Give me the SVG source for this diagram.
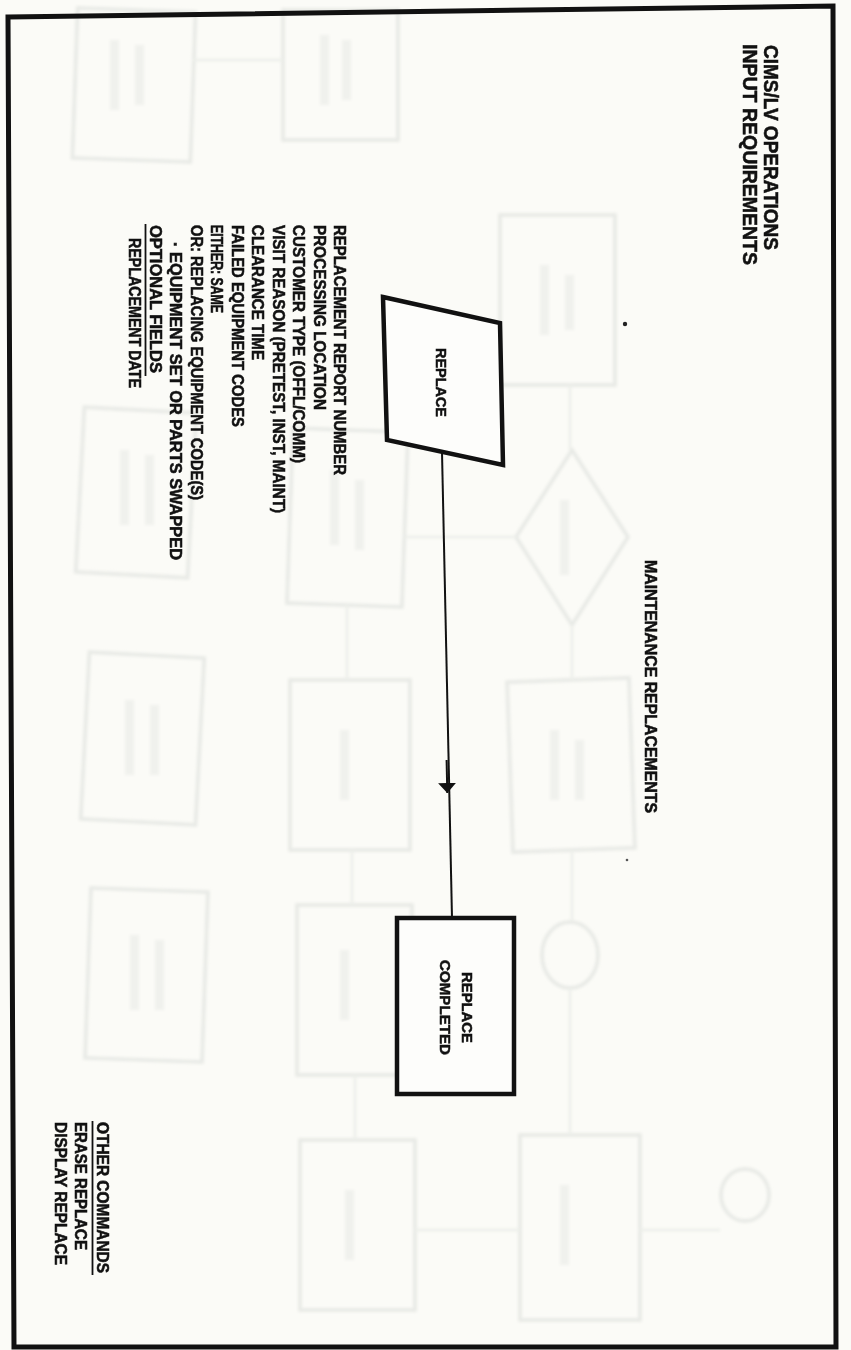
<svg xmlns="http://www.w3.org/2000/svg" width="851" height="1350" viewBox="0 0 851 1350">
  <defs>
    <marker id="arrowhead" viewBox="0 0 10 10" refX="10" refY="5" markerWidth="10" markerHeight="18" markerUnits="userSpaceOnUse" orient="auto" preserveAspectRatio="none">
      <path d="M0,0 L10,5 L0,10 Z" fill="#111"/>
    </marker>
    <filter id="soft" x="-5%" y="-5%" width="110%" height="110%">
      <feGaussianBlur stdDeviation="1.6"/>
    </filter>
    <style>
      .bg { fill: #fbfbf7; }
      .frame { fill: none; stroke: #111; stroke-width: 5; stroke-linejoin: miter; }
      .shape { fill: #fdfdfb; stroke: #111; stroke-width: 4.5; stroke-linejoin: miter; }
      .wire { fill: none; stroke: #111; stroke-width: 2; }
      .ghost { fill: none; stroke: #e7e9e5; stroke-width: 3.5; }
      .ghost-thin { fill: none; stroke: #eceee9; stroke-width: 2.5; }
      .ghost-ink { fill: #f0f1ed; }
      .t { font-family: "Liberation Sans", Arial, sans-serif; font-weight: bold; fill: #111; stroke: #111; stroke-width: 0.55; }
      .title { font-size: 20px; }
      .head { font-size: 16.5px; }
      .body { font-size: 16px; }
      .label { font-size: 15.5px; }
      .rule { stroke: #111; stroke-width: 1.8; }
    </style>
  </defs>

  <!-- page -->
  <rect class="bg" x="0" y="0" width="851" height="1350"/>

  <!-- faint show-through from the reverse side of the sheet -->
  <g id="show-through" filter="url(#soft)">
    <rect class="ghost" x="75" y="10" width="118" height="150" transform="rotate(2 134 85)"/>
    <rect class="ghost" x="283" y="10" width="115" height="130"/>
    <rect class="ghost" x="500" y="215" width="115" height="170"/>
    <polygon class="ghost" points="572,450 628,537 572,625 516,537"/>
    <rect class="ghost" x="510" y="680" width="122" height="170" transform="rotate(-2 571 765)"/>
    <ellipse class="ghost" cx="570" cy="955" rx="28" ry="33"/>
    <rect class="ghost" x="520" y="1135" width="120" height="185"/>
    <ellipse class="ghost" cx="745" cy="1195" rx="24" ry="26"/>
    <rect class="ghost" x="290" y="430" width="115" height="175" transform="rotate(2 347 517)"/>
    <rect class="ghost" x="290" y="680" width="120" height="170"/>
    <rect class="ghost" x="297" y="905" width="115" height="170"/>
    <rect class="ghost" x="300" y="1140" width="115" height="170"/>
    <rect class="ghost" x="80" y="410" width="112" height="165" transform="rotate(3 136 492)"/>
    <rect class="ghost" x="85" y="655" width="115" height="167" transform="rotate(3 142 738)"/>
    <rect class="ghost" x="88" y="890" width="117" height="170" transform="rotate(2 146 975)"/>
    <path class="ghost-thin" d="M570,385 V450 M572,625 V680 M572,850 V922 M570,988 V1135 M405,537 H516 M347,605 V680 M352,850 V905 M355,1075 V1140 M192,60 H283 M415,1230 H520 M640,1230 H720"/>
    <!-- blurred lettering seen through the paper -->
    <rect class="ghost-ink" x="110" y="40" width="9" height="70"/>
    <rect class="ghost-ink" x="135" y="45" width="9" height="60"/>
    <rect class="ghost-ink" x="320" y="35" width="9" height="70"/>
    <rect class="ghost-ink" x="342" y="40" width="9" height="60"/>
    <rect class="ghost-ink" x="540" y="265" width="9" height="70"/>
    <rect class="ghost-ink" x="565" y="275" width="9" height="55"/>
    <rect class="ghost-ink" x="560" y="500" width="9" height="75"/>
    <rect class="ghost-ink" x="550" y="730" width="9" height="70"/>
    <rect class="ghost-ink" x="575" y="740" width="9" height="60"/>
    <rect class="ghost-ink" x="330" y="470" width="9" height="75"/>
    <rect class="ghost-ink" x="355" y="480" width="9" height="70"/>
    <rect class="ghost-ink" x="340" y="730" width="9" height="70"/>
    <rect class="ghost-ink" x="340" y="950" width="9" height="70"/>
    <rect class="ghost-ink" x="345" y="1190" width="9" height="70"/>
    <rect class="ghost-ink" x="560" y="1185" width="9" height="80"/>
    <rect class="ghost-ink" x="120" y="450" width="9" height="75"/>
    <rect class="ghost-ink" x="145" y="455" width="9" height="70"/>
    <rect class="ghost-ink" x="125" y="700" width="9" height="75"/>
    <rect class="ghost-ink" x="150" y="705" width="9" height="70"/>
    <rect class="ghost-ink" x="130" y="935" width="9" height="75"/>
    <rect class="ghost-ink" x="155" y="940" width="9" height="70"/>
  </g>

  <!-- specks on the sheet -->
  <circle cx="625" cy="324" r="2.2" fill="#222"/>
  <circle cx="627" cy="860" r="1.3" fill="#555"/>

  <!-- sheet border -->
  <polygon class="frame" points="8,17 833,6 836,1347 14,1347"/>

  <!-- connectors -->
  <g id="connectors">
    <line class="wire" x1="442" y1="452" x2="452" y2="918"/>
    <line class="wire" x1="446.6" y1="760" x2="447.3" y2="793" marker-end="url(#arrowhead)"/>
  </g>

  <!-- nodes -->
  <g id="node-replace">
    <polygon class="shape" points="383,297 500,323 503,465 387,440"/>
  </g>
  <g id="node-replace-completed">
    <rect class="shape" x="397" y="918" width="117" height="176"/>
  </g>

  <!-- all lettering runs top-to-bottom (page set landscape) -->
  <g id="labels" transform="rotate(90)">
    <!-- title -->
    <text class="t title" x="45" y="-764" textLength="205" lengthAdjust="spacingAndGlyphs">CIMS/LV OPERATIONS</text>
    <text class="t title" x="44" y="-743" textLength="221" lengthAdjust="spacingAndGlyphs">INPUT REQUIREMENTS</text>

    <!-- heading -->
    <text class="t head" x="560" y="-645" textLength="253" lengthAdjust="spacingAndGlyphs">MAINTENANCE REPLACEMENTS</text>

    <!-- node labels -->
    <text class="t label" x="348" y="-436" textLength="69" lengthAdjust="spacingAndGlyphs">REPLACE</text>
    <text class="t label" x="972" y="-462" textLength="71" lengthAdjust="spacingAndGlyphs">REPLACE</text>
    <text class="t label" x="960" y="-440" textLength="95" lengthAdjust="spacingAndGlyphs">COMPLETED</text>

    <!-- required fields -->
    <g id="fields">
      <text class="t body" x="225" y="-334" textLength="250" lengthAdjust="spacingAndGlyphs">REPLACEMENT REPORT NUMBER</text>
      <text class="t body" x="225" y="-314" textLength="185" lengthAdjust="spacingAndGlyphs">PROCESSING LOCATION</text>
      <text class="t body" x="225" y="-293" textLength="238" lengthAdjust="spacingAndGlyphs">CUSTOMER TYPE (OFFL/COMM)</text>
      <text class="t body" x="225" y="-273" textLength="288" lengthAdjust="spacingAndGlyphs">VISIT REASON (PRETEST, INST, MAINT)</text>
      <text class="t body" x="225" y="-252" textLength="135" lengthAdjust="spacingAndGlyphs">CLEARANCE TIME</text>
      <text class="t body" x="225" y="-232" textLength="202" lengthAdjust="spacingAndGlyphs">FAILED EQUIPMENT CODES</text>
      <text class="t body" x="225" y="-211" textLength="88" lengthAdjust="spacingAndGlyphs">EITHER: SAME</text>
      <text class="t body" x="225" y="-191" textLength="275" lengthAdjust="spacingAndGlyphs">OR: REPLACING EQUIPMENT CODE(S)</text>
      <text class="t body" x="242" y="-170" textLength="318" lengthAdjust="spacingAndGlyphs">· EQUIPMENT SET OR PARTS SWAPPED</text>
      <text class="t body" x="225" y="-150" textLength="148" lengthAdjust="spacingAndGlyphs">OPTIONAL FIELDS</text>
      <line class="rule" x1="224" y1="-145.5" x2="376" y2="-145.5"/>
      <text class="t body" x="238" y="-129" textLength="150" lengthAdjust="spacingAndGlyphs">REPLACEMENT DATE</text>
    </g>

    <!-- other commands -->
    <g id="commands">
      <text class="t body" x="1122" y="-97" textLength="151" lengthAdjust="spacingAndGlyphs">OTHER COMMANDS</text>
      <line class="rule" x1="1121" y1="-92.5" x2="1275" y2="-92.5"/>
      <text class="t body" x="1122" y="-75" textLength="128" lengthAdjust="spacingAndGlyphs">ERASE REPLACE</text>
      <text class="t body" x="1122" y="-55" textLength="143" lengthAdjust="spacingAndGlyphs">DISPLAY REPLACE</text>
    </g>
  </g>
</svg>
